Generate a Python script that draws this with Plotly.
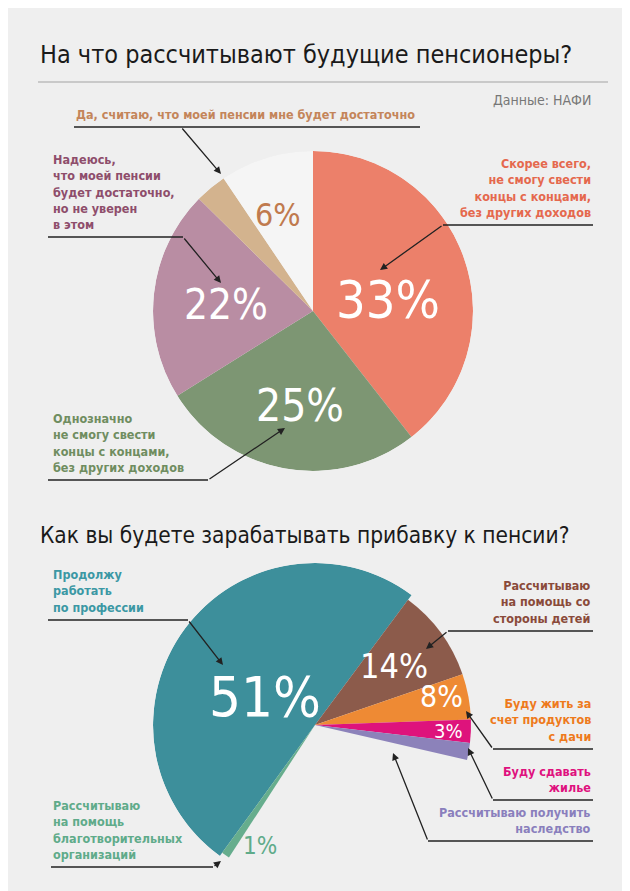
import plotly.graph_objects as go

# Верхняя диаграмма: секторы (угол в градусах)
top_names = ['Скорее всего', 'Однозначно', 'Надеюсь', 'Да, считаю', 'Затрудняюсь']
top_spans = [142, 96, 76.5, 11.5, 34]
top_colors = ['#ec806a', '#7d9673', '#b98da3', '#d3b38e', '#f5f5f5']
top_pct = ['33%', '25%', '22%', '6%']

# Нижняя диаграмма
bot_names = ['Работать', 'Дети', 'Дача', 'Жилье', 'Наследство', 'Благотворит.']
bot_start = 216
bot_spans = [180.6, 34.4, 17, 8.6, 6.4]
bot_r = [162, 156, 156, 156, 156]
bot_colors = ['#3d8f9b', '#8c5b4b', '#ee8a34', '#de137c', '#8c82ba']
green_span = 3
bot_pct = ['51%', '14%', '8%', '3%', '1%']

FONT = 'DejaVu Sans Condensed, Liberation Sans Narrow, Roboto, Arial'
W, H = 630, 891


def px(x):
    return x / W


def py(y):
    return 1 - y / H


def centers(start, spans):
    out, a = [], start
    for s in spans:
        out.append(a + s / 2)
        a += s
    return out


fig = go.Figure()
fig.add_trace(go.Barpolar(r=[160] * len(top_spans), theta=centers(0, top_spans), width=top_spans,
                          marker=dict(color=top_colors, line=dict(width=0)), subplot='polar',
                          hoverinfo='skip'))
fig.add_trace(go.Barpolar(r=bot_r + [158], theta=centers(bot_start, bot_spans) + [bot_start - green_span / 2],
                          width=bot_spans + [green_span],
                          marker=dict(color=bot_colors + ['#66ad8d'], line=dict(width=0)), subplot='polar2',
                          hoverinfo='skip'))

polar_style = dict(bgcolor='rgba(0,0,0,0)',
                   angularaxis=dict(rotation=90, direction='clockwise', visible=False),
                   bargap=0)
fig.update_layout(
    width=W, height=H, margin=dict(l=0, r=0, t=0, b=0),
    paper_bgcolor='#efefef', showlegend=False,
    polar=dict(domain=dict(x=[px(145), px(465)], y=[py(463), py(143)]),
               radialaxis=dict(range=[0, 160], visible=False), **polar_style),
    polar2=dict(domain=dict(x=[px(145), px(469)], y=[py(879), py(555)]),
                radialaxis=dict(range=[0, 162], visible=False), **polar_style),
)

ann = []


def text(x, y, s, size, color, xanchor='left', yanchor='middle', bold=False):
    if bold:
        s = '<b>' + s + '</b>'
    ann.append(dict(x=px(x), y=py(y), xref='paper', yref='paper', text=s, showarrow=False,
                    xanchor=xanchor, yanchor=yanchor, align=xanchor if xanchor != 'center' else 'center',
                    font=dict(family=FONT, size=size, color=color)))


def label(x, yline, s, color, xanchor='left'):
    # подпись стоит над линией-выноской
    text(x, yline - 3, s, 12.5, color, xanchor=xanchor, yanchor='bottom', bold=True)


def leader(x0, x1, yline, bend_x, tip):
    fig.add_shape(type='line', xref='paper', yref='paper', x0=px(x0), x1=px(x1), y0=py(yline), y1=py(yline),
                  line=dict(color='#222', width=1.3))
    ann.append(dict(x=px(tip[0]), y=py(tip[1]), xref='paper', yref='paper', text='', showarrow=True,
                    ax=bend_x - tip[0], ay=yline - tip[1], arrowhead=2, arrowsize=1.1, arrowwidth=1.3,
                    arrowcolor='#222', standoff=0))


# Заголовки
text(30, 47, 'На что рассчитывают будущие пенсионеры?', 25, '#1a1a1a')
fig.add_shape(type='line', xref='paper', yref='paper', x0=px(30), x1=px(600), y0=py(74), y1=py(74),
              line=dict(color='#bdbdbd', width=1.5))
text(585, 92, 'Данные: НАФИ', 14, '#777', xanchor='right')
text(30, 527, 'Как вы будете зарабатывать прибавку к пенсии?', 22.5, '#1a1a1a')

# Подписи верхней диаграммы
label(66, 119, 'Да, считаю, что моей пенсии мне будет достаточно', '#c4855a')
leader(66, 412, 119, 173, (213, 166))
label(43, 229, 'Надеюсь,<br>что моей пенсии<br>будет достаточно,<br>но не уверен<br>в этом', '#8e4d6b')
leader(40, 175, 229, 175, (213, 275))
label(585, 217, 'Скорее всего,<br>не смогу свести<br>концы с концами,<br>без других доходов', '#e5684d',
      xanchor='right')
leader(435, 585, 217, 435, (372, 262))
label(43, 472, 'Однозначно<br>не смогу свести<br>концы с концами,<br>без других доходов', '#6f8d60')
leader(40, 200, 472, 200, (277, 420))

text(380, 292, top_pct[0], 52, 'white', xanchor='center')
text(292, 398, top_pct[1], 44, 'white', xanchor='center')
text(218, 297, top_pct[2], 42, 'white', xanchor='center')
text(270, 207, top_pct[3], 32, '#c07a4e', xanchor='center')

# Подписи нижней диаграммы
label(43, 612, 'Продолжу<br>работать<br>по профессии', '#3b98a4')
leader(40, 180, 612, 180, (215, 657))
label(585, 623, 'Рассчитываю<br>на помощь со<br>стороны детей', '#8a4a3a', xanchor='right')
leader(440, 585, 623, 440, (418, 641))
label(585, 741, 'Буду жить за<br>счет продуктов<br>с дачи', '#ee7a1c', xanchor='right')
leader(485, 585, 741, 485, (458, 703))
label(585, 792, 'Буду сдавать<br>жилье', '#df117e', xanchor='right')
leader(485, 585, 792, 485, (460, 740))
label(585, 833, 'Рассчитываю получить<br>наследство', '#8a7fbd', xanchor='right')
leader(420, 585, 833, 420, (385, 745))
label(43, 859, 'Рассчитываю<br>на помощь<br>благотворительных<br>организаций', '#5fab8a')
leader(43, 205, 859, 205, (213, 853))

text(257, 688, bot_pct[0], 56, 'white', xanchor='center')
text(386, 658, bot_pct[1], 34, 'white', xanchor='center')
text(433, 688, bot_pct[2], 30, 'white', xanchor='center')
text(440, 723, bot_pct[3], 20, 'white', xanchor='center')
text(252, 838, bot_pct[4], 24, '#5fab8a', xanchor='center')

fig.update_layout(annotations=ann)
fig.write_html('out.html')
